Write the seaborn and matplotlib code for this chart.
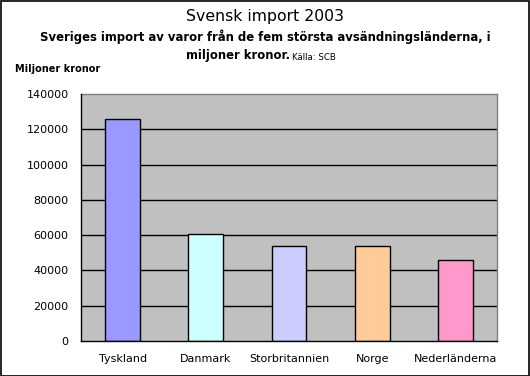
import pandas as pd
import matplotlib
matplotlib.use("Agg")
import matplotlib.pyplot as plt
from matplotlib.patches import Rectangle
import seaborn as sns

# --- DATA ---
countries = ["Tyskland", "Danmark", "Storbritannien", "Norge", "Nederländerna"]
imports = [125700, 60500, 53800, 53700, 45700]
bar_colors = ["#9999FF", "#CCFFFF", "#CCCCFF", "#FFCC99", "#FF99CC"]
y_ticks = [0, 20000, 40000, 60000, 80000, 100000, 120000, 140000]

df = pd.DataFrame({"land": countries, "import": imports})

# --- FIGURE ---
sns.set_style("white")
plt.rcParams["font.family"] = ["DejaVu Sans"]
plt.rcParams["text.color"] = "black"
plt.rcParams["xtick.color"] = "black"
plt.rcParams["ytick.color"] = "black"

fig = plt.figure(figsize=(5.3, 3.76), dpi=100)
ax = fig.add_axes([81 / 530, 35 / 376, 416 / 530, 247 / 376])
ax.set_facecolor("#C0C0C0")

sns.barplot(data=df, x="land", y="import", hue="land", palette=bar_colors,
            saturation=1, width=0.42, edgecolor="black", linewidth=1,
            legend=False, ax=ax, zorder=3)

ax.set_ylim(0, 140000)
ax.set_xlim(-0.5, len(countries) - 0.5)
ax.set_yticks(y_ticks)
ax.set_yticklabels([str(v) for v in y_ticks])
for v in y_ticks[1:-1]:
    ax.axhline(v, color="black", linewidth=1, zorder=1)

ax.set_xticks(range(len(countries)))
ax.set_xticklabels(countries)
ax.set_xticks([i + 0.5 for i in range(-1, len(countries))], minor=True)
ax.tick_params(axis="x", which="major", length=0, pad=9, labelsize=8)
ax.tick_params(axis="x", which="minor", length=5, width=1, color="black", direction="out")
ax.tick_params(axis="y", length=5, width=1, color="black", direction="out", pad=4, labelsize=8)
ax.set_xlabel("")
ax.set_ylabel("")

for side in ["left", "bottom"]:
    ax.spines[side].set_color("black")
    ax.spines[side].set_linewidth(1)
    ax.spines[side].set_zorder(4)
for side in ["top", "right"]:
    ax.spines[side].set_color("#808080")
    ax.spines[side].set_linewidth(1)

# --- TEXTS ---
W, H = 530, 376
fig.text(265 / W, 1 - 17 / H, "Svensk import 2003", ha="center", va="center", fontsize=11.3)
fig.text(265 / W, 1 - 37 / H,
         "Sveriges import av varor från de fem största avsändningsländerna, i",
         ha="center", va="center", fontsize=8.4, fontweight="bold")
fig.text(290 / W, 1 - 56 / H, "miljoner kronor.", ha="right", va="center",
         fontsize=8.4, fontweight="bold")
fig.text(292 / W, 1 - 57 / H, "Källa: SCB", ha="left", va="center", fontsize=6.2)
fig.text(15 / W, 1 - 69 / H, "Miljoner kronor", ha="left", va="center",
         fontsize=7, fontweight="bold")

# figure border
fig.patches.append(Rectangle((0.5 / W, 0.5 / H), 1 - 1.5 / W, 1 - 1.5 / H,
                             transform=fig.transFigure, fill=False,
                             edgecolor="black", linewidth=1.2))

fig.savefig("out.png", dpi=100)
